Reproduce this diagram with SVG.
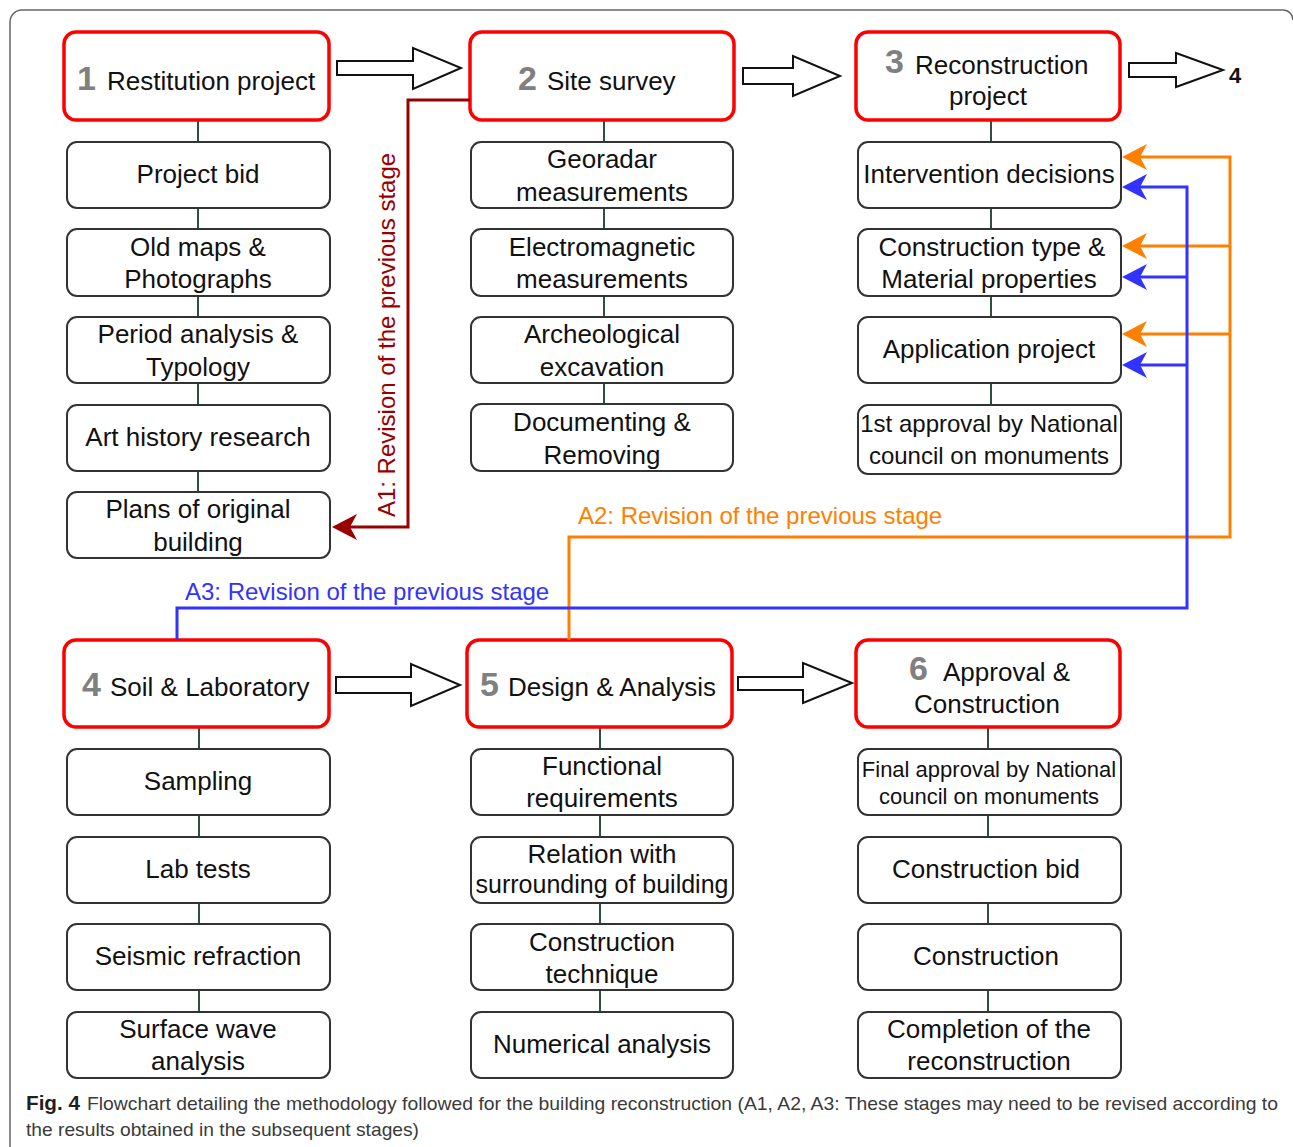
<svg xmlns="http://www.w3.org/2000/svg" width="1293" height="1147" viewBox="0 0 1293 1147">
<style>
.hdr{fill:#fff;stroke:#ff0000;stroke-width:3.5}
.sub{fill:#fff;stroke:#333;stroke-width:2}
.t{font-family:"Liberation Sans",Arial,sans-serif;font-size:26px;fill:#111;text-anchor:middle}
.h{font-family:"Liberation Sans",Arial,sans-serif;font-size:26px;fill:#111}
.n{font-weight:bold;font-size:34px;fill:#808080}
.link{stroke:#2f4f3f;stroke-width:2;fill:none}
.blk{fill:#fff;stroke:#111;stroke-width:2;stroke-linejoin:miter}
.lab{font-family:"Liberation Sans",Arial,sans-serif;font-size:24px}
.cap{font-family:"Liberation Sans",Arial,sans-serif;font-size:19px;fill:#3a3a3a}
</style>
<defs>
<marker id="mr" viewBox="0 0 26 26" refX="7" refY="13" markerWidth="26" markerHeight="26" markerUnits="userSpaceOnUse" orient="auto"><path d="M25,13 L0,0 L7,13 L0,26 Z" fill="#990000"/></marker>
<marker id="mo" viewBox="0 0 26 26" refX="7" refY="13" markerWidth="26" markerHeight="26" markerUnits="userSpaceOnUse" orient="auto"><path d="M25,13 L0,0 L7,13 L0,26 Z" fill="#ff8000"/></marker>
<marker id="mb" viewBox="0 0 26 26" refX="7" refY="13" markerWidth="26" markerHeight="26" markerUnits="userSpaceOnUse" orient="auto"><path d="M25,13 L0,0 L7,13 L0,26 Z" fill="#3333ff"/></marker>
</defs>
<rect width="1293" height="1147" fill="#fff"/>
<path d="M10,1147 V22 A12,12 0 0 1 22,10 H1283 A10,10 0 0 1 1293,20" fill="none" stroke="#666" stroke-width="1.5"/>

<g id="links">
<line class="link" x1="198" y1="120" x2="198" y2="492"/>
<line class="link" x1="604" y1="120" x2="604" y2="404"/>
<line class="link" x1="991" y1="120" x2="991" y2="405"/>
<line class="link" x1="199" y1="727" x2="199" y2="1012"/>
<line class="link" x1="600" y1="727" x2="600" y2="1012"/>
<line class="link" x1="988" y1="727" x2="988" y2="1012"/>
</g>

<g id="block-arrows">
<polygon class="blk" points="337,61 413,61 413,48 461,68 413,89 413,75 337,75"/>
<polygon class="blk" points="743,68 793,68 793,56 840,76 793,96 793,84 743,84"/>
<polygon class="blk" points="1129,63 1176,63 1176,53 1223,70 1176,87 1176,77 1129,77"/>
<polygon class="blk" points="336,677 411,677 411,664 460,685 411,706 411,693 336,693"/>
<polygon class="blk" points="738,677 803,677 803,663 852,683 803,703 803,690 738,690"/>
<text x="1229" y="83" font-family="Liberation Sans,Arial,sans-serif" font-size="22" font-weight="bold" fill="#111">4</text>
</g>

<g id="n1"><rect class="hdr" x="64" y="32" width="265" height="88" rx="12"/><text class="h" x="77" y="90"><tspan class="n">1</tspan><tspan x="107">Restitution project</tspan></text></g>
<g id="n1a"><rect class="sub" x="67" y="142" width="263" height="66" rx="10"/><text class="t" x="198" y="183">Project bid</text></g>
<g id="n1b"><rect class="sub" x="67" y="229" width="263" height="67" rx="10"/><text class="t" x="198" y="256">Old maps &amp;</text><text class="t" x="198" y="288">Photographs</text></g>
<g id="n1c"><rect class="sub" x="67" y="317" width="263" height="66" rx="10"/><text class="t" x="198" y="343">Period analysis &amp;</text><text class="t" x="198" y="376">Typology</text></g>
<g id="n1d"><rect class="sub" x="67" y="405" width="263" height="66" rx="10"/><text class="t" x="198" y="446">Art history research</text></g>
<g id="n1e"><rect class="sub" x="67" y="492" width="263" height="66" rx="10"/><text class="t" x="198" y="518">Plans of original</text><text class="t" x="198" y="551">building</text></g>

<g id="n2"><rect class="hdr" x="470" y="32" width="264" height="88" rx="12"/><text class="h" x="518" y="90"><tspan class="n">2</tspan><tspan x="547">Site survey</tspan></text></g>
<g id="n2a"><rect class="sub" x="471" y="142" width="262" height="66" rx="10"/><text class="t" x="602" y="168">Georadar</text><text class="t" x="602" y="201">measurements</text></g>
<g id="n2b"><rect class="sub" x="471" y="229" width="262" height="67" rx="10"/><text class="t" x="602" y="256">Electromagnetic</text><text class="t" x="602" y="288">measurements</text></g>
<g id="n2c"><rect class="sub" x="471" y="317" width="262" height="66" rx="10"/><text class="t" x="602" y="343">Archeological</text><text class="t" x="602" y="376">excavation</text></g>
<g id="n2d"><rect class="sub" x="471" y="404" width="262" height="67" rx="10"/><text class="t" x="602" y="431">Documenting &amp;</text><text class="t" x="602" y="464">Removing</text></g>

<g id="n3"><rect class="hdr" x="856" y="32" width="264" height="88" rx="12"/><text class="h" x="885" y="73"><tspan class="n">3</tspan><tspan x="915" y="74">Reconstruction</tspan></text><text class="t" x="988" y="105">project</text></g>
<g id="n3a"><rect class="sub" x="858" y="142" width="263" height="66" rx="10"/><text class="t" x="989" y="183">Intervention decisions</text></g>
<g id="n3b"><rect class="sub" x="858" y="229" width="263" height="67" rx="10"/><text class="t" x="992" y="256">Construction type &amp;</text><text class="t" x="989" y="288">Material properties</text></g>
<g id="n3c"><rect class="sub" x="858" y="317" width="263" height="66" rx="10"/><text class="t" x="989" y="358">Application project</text></g>
<g id="n3d"><rect class="sub" x="858" y="405" width="263" height="69" rx="10"/><text class="t" x="989" y="432" style="font-size:24px">1st approval by National</text><text class="t" x="989" y="464" style="font-size:24px">council on monuments</text></g>

<g id="n4"><rect class="hdr" x="64" y="640" width="265" height="87" rx="12"/><text class="h" x="82" y="696"><tspan class="n">4</tspan><tspan x="110">Soil &amp; Laboratory</tspan></text></g>
<g id="n4a"><rect class="sub" x="67" y="749" width="263" height="66" rx="10"/><text class="t" x="198" y="790">Sampling</text></g>
<g id="n4b"><rect class="sub" x="67" y="837" width="263" height="66" rx="10"/><text class="t" x="198" y="878">Lab tests</text></g>
<g id="n4c"><rect class="sub" x="67" y="924" width="263" height="66" rx="10"/><text class="t" x="198" y="965">Seismic refraction</text></g>
<g id="n4d"><rect class="sub" x="67" y="1012" width="263" height="66" rx="10"/><text class="t" x="198" y="1038">Surface wave</text><text class="t" x="198" y="1070">analysis</text></g>

<g id="n5"><rect class="hdr" x="467" y="640" width="265" height="87" rx="12"/><text class="h" x="480" y="696"><tspan class="n">5</tspan><tspan x="508">Design &amp; Analysis</tspan></text></g>
<g id="n5a"><rect class="sub" x="471" y="749" width="262" height="66" rx="10"/><text class="t" x="602" y="775">Functional</text><text class="t" x="602" y="807">requirements</text></g>
<g id="n5b"><rect class="sub" x="471" y="837" width="262" height="66" rx="10"/><text class="t" x="602" y="863">Relation with</text><text class="t" x="602" y="893" style="font-size:25px">surrounding of building</text></g>
<g id="n5c"><rect class="sub" x="471" y="924" width="262" height="66" rx="10"/><text class="t" x="602" y="951">Construction</text><text class="t" x="602" y="983">technique</text></g>
<g id="n5d"><rect class="sub" x="471" y="1012" width="262" height="66" rx="10"/><text class="t" x="602" y="1053">Numerical analysis</text></g>

<g id="n6"><rect class="hdr" x="856" y="640" width="264" height="87" rx="12"/><text class="h" x="909" y="680"><tspan class="n">6</tspan><tspan x="943" y="681">Approval &amp;</tspan></text><text class="t" x="987" y="713">Construction</text></g>
<g id="n6a"><rect class="sub" x="858" y="749" width="263" height="66" rx="10"/><text class="t" x="989" y="777" style="font-size:22px">Final approval by National</text><text class="t" x="989" y="804" style="font-size:22px">council on monuments</text></g>
<g id="n6b"><rect class="sub" x="858" y="837" width="263" height="66" rx="10"/><text class="t" x="986" y="878">Construction bid</text></g>
<g id="n6c"><rect class="sub" x="858" y="924" width="263" height="66" rx="10"/><text class="t" x="986" y="965">Construction</text></g>
<g id="n6d"><rect class="sub" x="858" y="1012" width="263" height="66" rx="10"/><text class="t" x="989" y="1038">Completion of the</text><text class="t" x="989" y="1070">reconstruction</text></g>

<g id="connectors" fill="none" stroke-width="3">
<path d="M470,100 H408 V527 H350" stroke="#990000" marker-end="url(#mr)"/>
<path d="M569,640 V537 H1230 V157 H1140" stroke="#ff8000" marker-end="url(#mo)"/>
<path d="M1230,246 H1140" stroke="#ff8000" marker-end="url(#mo)"/>
<path d="M1230,334 H1140" stroke="#ff8000" marker-end="url(#mo)"/>
<path d="M177,640 V608 H1187 V187 H1140" stroke="#3333ff" marker-end="url(#mb)"/>
<path d="M1187,277 H1140" stroke="#3333ff" marker-end="url(#mb)"/>
<path d="M1187,365 H1140" stroke="#3333ff" marker-end="url(#mb)"/>
<text class="lab" fill="#990000" transform="translate(395,335) rotate(-90)" text-anchor="middle">A1: Revision of the previous stage</text>
<text class="lab" fill="#ff8000" x="578" y="524" stroke="none">A2: Revision of the previous stage</text>
<text class="lab" fill="#3333ff" x="185" y="600" stroke="none">A3: Revision of the previous stage</text>
</g>

<g id="caption">
<text class="cap" x="26" y="1110" font-weight="bold" style="fill:#231f20;font-size:20px" textLength="54" lengthAdjust="spacingAndGlyphs">Fig. 4</text>
<text class="cap" x="87" y="1110" textLength="1191" lengthAdjust="spacingAndGlyphs">Flowchart detailing the methodology followed for the building reconstruction (A1, A2, A3: These stages may need to be revised according to</text>
<text class="cap" x="26" y="1136" textLength="393" lengthAdjust="spacingAndGlyphs">the results obtained in the subsequent stages)</text>
</g>
</svg>
